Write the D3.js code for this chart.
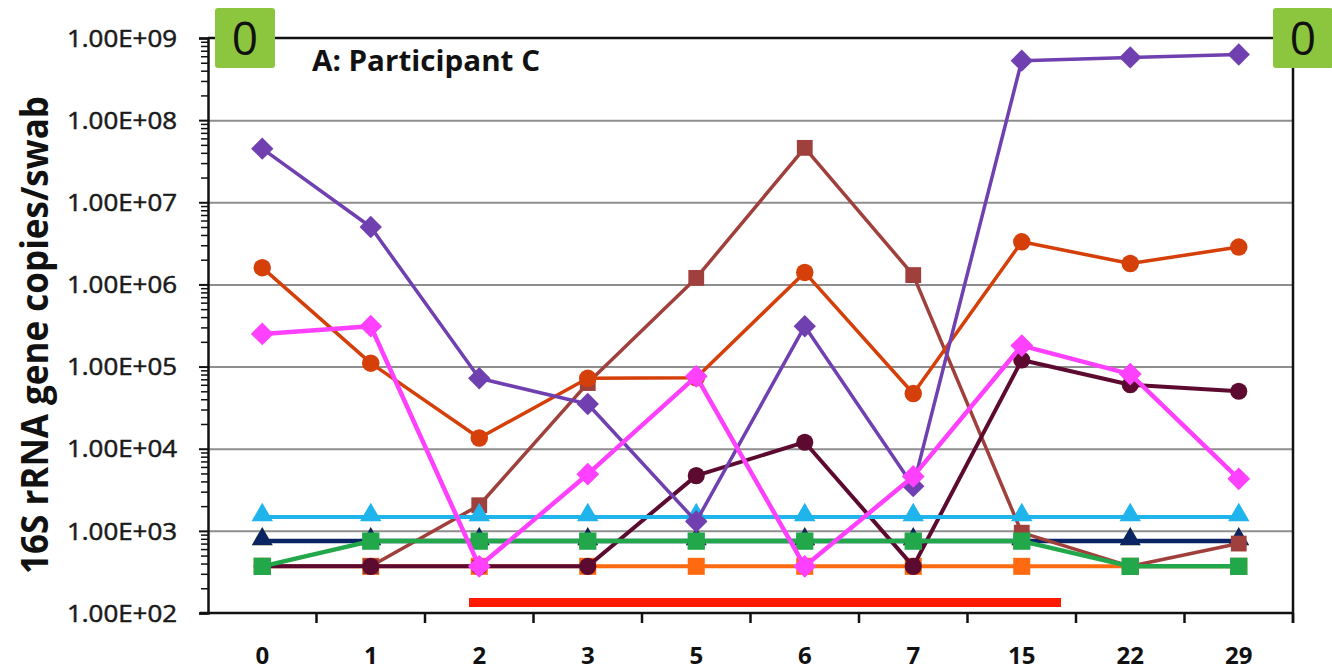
<!DOCTYPE html>
<html>
<head>
<meta charset="utf-8">
<script src="https://cdn.jsdelivr.net/npm/d3@7"></script>
<style>
  body { margin: 0; background: #fff; }
  text { font-family: "Open Sans", "Liberation Sans", sans-serif; }
</style>
</head>
<body>
<script>
"use strict";

// sampling days (x categories)
var days = ["0", "1", "2", "3", "5", "6", "7", "15", "22", "29"];

// major y ticks
var majorTicks = [1e2, 1e3, 1e4, 1e5, 1e6, 1e7, 1e8, 1e9];

// series values, copies/swab
var yellowVals    = [750, 750, 750, 750, 750, 750, 750, 750, 750, 750];
var orangeVals    = [370, 370, 370, 370, 370, 370, 370, 370, 370, 370];
var navyVals      = [750, 750, 750, 750, 750, 750, 750, 750, 750, 750];
var brownVals     = [370, 370, 2050, 63000, 1200000, 46000000, 1300000, 950, 370, 700];
var maroonVals    = [370, 370, 370, 370, 4700, 12000, 370, 120000, 60000, 50000];
var greenVals     = [370, 750, 750, 750, 750, 750, 750, 750, 370, 370];
var lightBlueVals = [1470, 1470, 1470, 1470, 1470, 1470, 1470, 1470, 1470, 1470];
var orangeRedVals = [1600000, 110000, 13500, 72000, 73000, 1400000, 47000, 3300000, 1800000, 2850000];
var purpleVals    = [45000000, 5000000, 72000, 35000, 1300, 310000, 3500, 530000000, 580000000, 630000000];
var pinkVals      = [250000, 310000, 370, 4900, 76000, 370, 4600, 180000, 81000, 4300];

// drawing order, back to front
var series = [
	{ vals: yellowVals,    color: "#ffe600", shape: "triangle", size: 190, width: 4 },
	{ vals: orangeVals,    color: "#ff6a10", shape: "square",   size: 290, width: 4 },
	{ vals: navyVals,      color: "#0b2463", shape: "triangle", size: 190, width: 4.5 },
	{ vals: brownVals,     color: "#a0403c", shape: "square",   size: 250, width: 3.5 },
	{ vals: maroonVals,    color: "#5c0a30", shape: "circle",   size: 230, width: 4 },
	{ vals: greenVals,     color: "#22a84a", shape: "square",   size: 300, width: 4.5 },
	{ vals: lightBlueVals, color: "#1fb4ec", shape: "triangle", size: 200, width: 4 },
	{ vals: orangeRedVals, color: "#d5400a", shape: "circle",   size: 240, width: 3.5 },
	{ vals: purpleVals,    color: "#7040b0", shape: "diamond",  size: 250, width: 3.5 },
	{ vals: pinkVals,      color: "#ff40ff", shape: "diamond",  size: 260, width: 4.5 }
];

var W = 1332, H = 672;
var plotL = 208, plotR = 1293, plotT = 38, plotB = 613;

var svg = d3.select("body").append("svg")
	.attr("width", W)
	.attr("height", H);

var x = d3.scaleBand().domain(days).range([plotL, plotR]);
var y = d3.scaleLog().domain([1e2, 1e9]).range([plotB, plotT]);

// gridlines
svg.append("g")
	.attr("transform", "translate(" + plotL + ",0)")
	.call(d3.axisRight(y).tickValues(majorTicks.slice(1, 7)).tickSize(plotR - plotL).tickFormat(""))
	.call(function (g) {
		g.select(".domain").remove();
		g.selectAll("line").attr("stroke", "#8e8e8e").attr("stroke-width", 2);
	});

// minor ticks
var minorTicks = [];
majorTicks.slice(0, 7).forEach(function (m) {
	for (var k = 2; k < 10; k++) minorTicks.push(m * k);
});
svg.append("g")
	.attr("transform", "translate(" + plotL + ",0)")
	.call(d3.axisLeft(y).tickValues(minorTicks).tickSize(7).tickFormat(""))
	.call(function (g) {
		g.select(".domain").remove();
		g.selectAll("line").attr("stroke", "#111").attr("stroke-width", 1.5);
	});

// major ticks + labels
svg.append("g")
	.attr("transform", "translate(" + plotL + ",0)")
	.call(d3.axisLeft(y).tickValues(majorTicks).tickSize(9).tickPadding(22)
		.tickFormat(function (d) { return d.toExponential(2).toUpperCase().replace("E+", "E+0"); }))
	.call(function (g) {
		g.select(".domain").attr("stroke", "#111").attr("stroke-width", 2.5);
		g.selectAll("line").attr("stroke", "#111").attr("stroke-width", 2);
		g.selectAll("text")
			.attr("font-size", 23)
			.attr("fill", "#1a1a1a")
			.attr("stroke", "#1a1a1a")
			.attr("stroke-width", 0.5)
			.attr("textLength", 110)
			.attr("lengthAdjust", "spacingAndGlyphs")
			.attr("dy", "0.36em");
	});

// bottom axis
svg.append("line")
	.attr("x1", plotL - 8).attr("x2", plotR)
	.attr("y1", plotB).attr("y2", plotB)
	.attr("stroke", "#111").attr("stroke-width", 2.5);
svg.append("g").selectAll("line")
	.data(days)
	.join("line")
	.attr("x1", function (d) { return x(d) + x.bandwidth(); })
	.attr("x2", function (d) { return x(d) + x.bandwidth(); })
	.attr("y1", plotB).attr("y2", plotB + 10)
	.attr("stroke", "#111").attr("stroke-width", 2.5);
svg.append("g").selectAll("text")
	.data(days)
	.join("text")
	.attr("x", function (d) { return x(d) + x.bandwidth() / 2; })
	.attr("y", 664)
	.attr("text-anchor", "middle")
	.attr("font-size", 24)
	.attr("font-weight", "bold")
	.attr("fill", "#111")
	.text(function (d) { return d; });

// top and right frame
svg.append("line")
	.attr("x1", plotL).attr("x2", 1273)
	.attr("y1", plotT).attr("y2", plotT)
	.attr("stroke", "#111").attr("stroke-width", 2.5);
svg.append("line")
	.attr("x1", plotR).attr("x2", plotR)
	.attr("y1", 68).attr("y2", plotB + 10)
	.attr("stroke", "#111").attr("stroke-width", 2.5);

// treatment bar
svg.append("rect")
	.attr("x", 469).attr("y", 598)
	.attr("width", 1061 - 469).attr("height", 9)
	.attr("fill", "#ff1a00");

// series
var line = d3.line()
	.x(function (d, i) { return x(days[i]) + x.bandwidth() / 2; })
	.y(function (d) { return y(d); });

var shapes = {
	circle: d3.symbolCircle,
	square: d3.symbolSquare,
	diamond: d3.symbolSquare,
	triangle: d3.symbolTriangle
};

series.forEach(function (s) {
	var g = svg.append("g");
	g.append("path")
		.attr("d", line(s.vals))
		.attr("fill", "none")
		.attr("stroke", s.color)
		.attr("stroke-width", s.width)
		.attr("stroke-linejoin", "round");
	g.selectAll("path.mark")
		.data(s.vals)
		.join("path")
		.attr("class", "mark")
		.attr("d", d3.symbol().type(shapes[s.shape]).size(s.size))
		.attr("transform", function (d, i) {
			var t = "translate(" + (x(days[i]) + x.bandwidth() / 2) + "," + y(d) + ")";
			if (s.shape === "diamond") t += " rotate(45)";
			if (s.shape === "triangle") t += " translate(0,-2)";
			return t;
		})
		.attr("fill", s.color);
});

// green "0" boxes
[[215, 8], [1273, 8]].forEach(function (p) {
	svg.append("rect")
		.attr("x", p[0]).attr("y", p[1])
		.attr("width", 60).attr("height", 60)
		.attr("rx", 3)
		.attr("fill", "#8cc63f");
	svg.append("text")
		.attr("x", p[0] + 30).attr("y", p[1] + 47)
		.attr("text-anchor", "middle")
		.attr("font-size", 46)
		.attr("fill", "#111")
		.text("0");
});

// panel title
svg.append("text")
	.attr("x", 312).attr("y", 71)
	.attr("font-size", 29)
	.attr("font-weight", "bold")
	.attr("fill", "#111")
	.attr("textLength", 228)
	.attr("lengthAdjust", "spacingAndGlyphs")
	.text("A: Participant C");

// y axis title
svg.append("text")
	.attr("transform", "translate(48,335) rotate(-90)")
	.attr("text-anchor", "middle")
	.attr("font-size", 38)
	.attr("font-weight", "bold")
	.attr("fill", "#111")
	.attr("textLength", 478)
	.attr("lengthAdjust", "spacingAndGlyphs")
	.text("16S rRNA gene copies/swab");
</script>
</body>
</html>
